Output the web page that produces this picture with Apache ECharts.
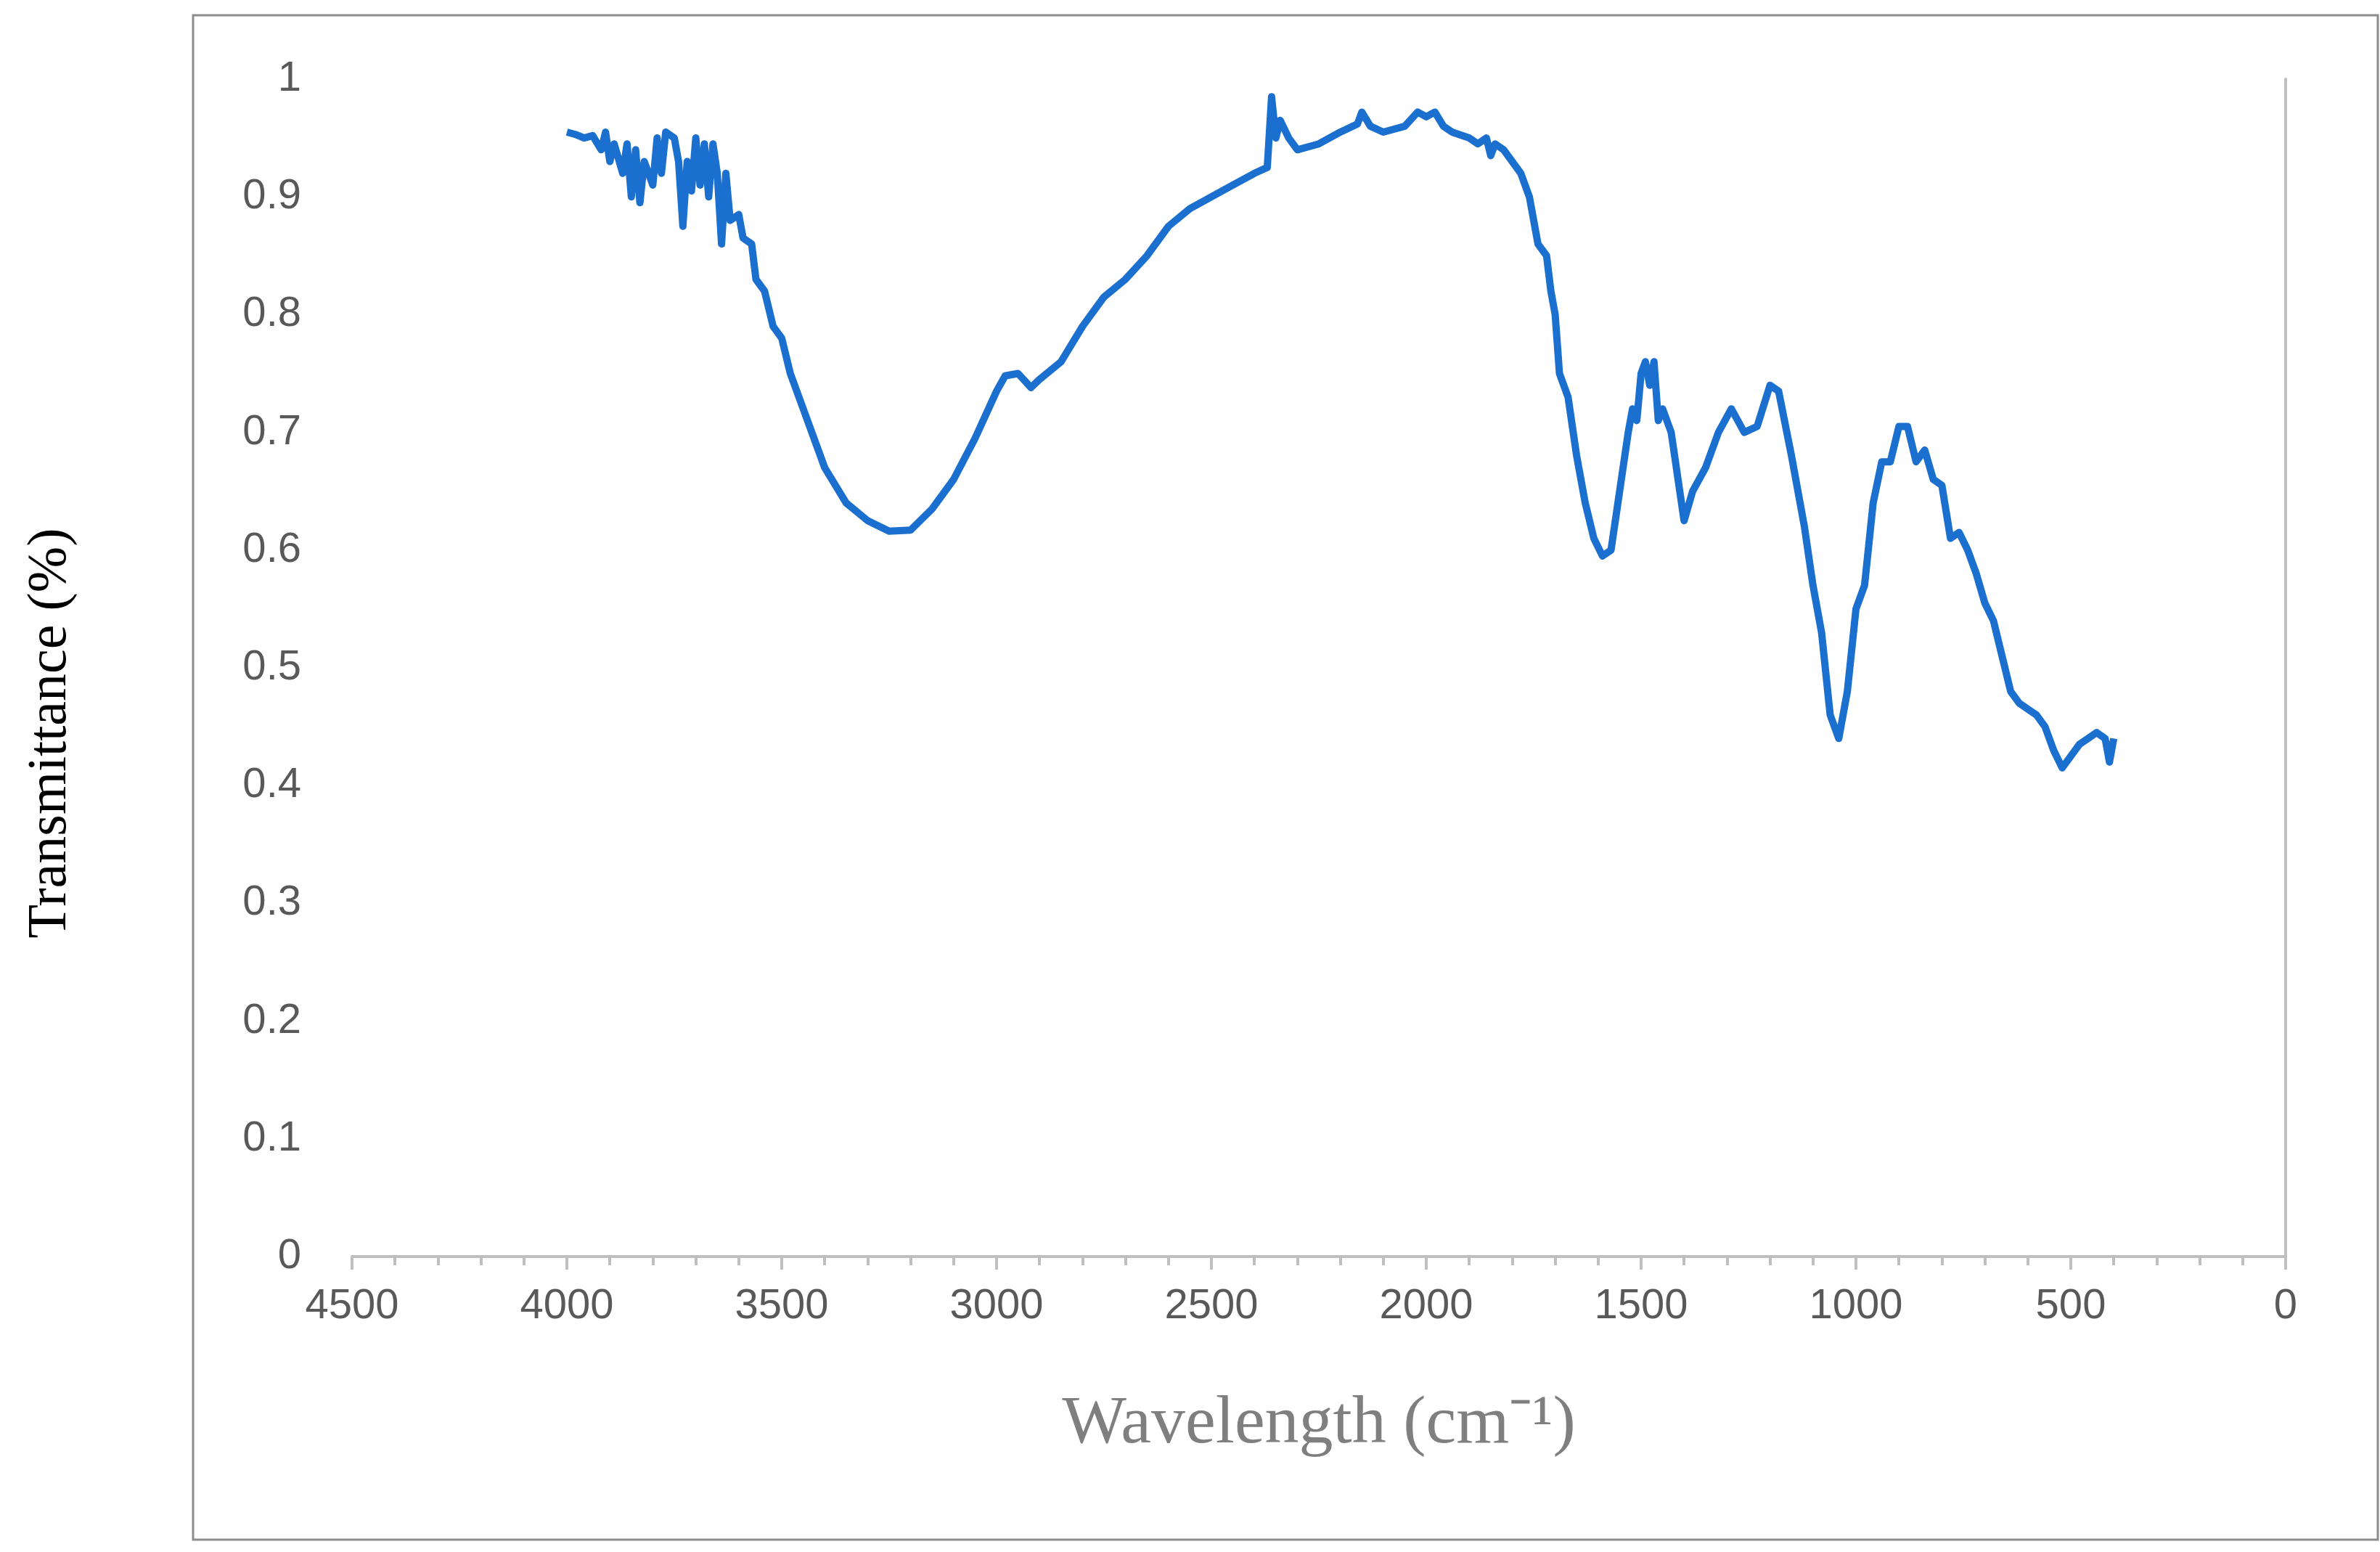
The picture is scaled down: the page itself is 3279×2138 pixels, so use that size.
<!DOCTYPE html>
<html><head><meta charset="utf-8">
<script src="https://cdn.jsdelivr.net/npm/echarts@6/dist/echarts.min.js"></script>
<style>html,body{margin:0;padding:0;background:#fff}#c{width:3279px;height:2138px}</style>
</head><body><div id="c"></div>
<script>
const wavenumbers = [4000,3980,3960,3940,3920,3910,3900,3890,3870,3860,3850,3840,3830,3820,3800,3790,3780,3770,3750,3740,3730,3720,3710,3700,3690,3680,3670,3660,3650,3640,3630,3620,3600,3590,3570,3560,3540,3520,3500,3480,3450,3420,3400,3350,3300,3250,3200,3150,3100,3050,3000,2980,2950,2920,2900,2850,2800,2750,2700,2650,2600,2550,2500,2450,2400,2370,2360,2350,2340,2320,2300,2250,2200,2160,2150,2130,2100,2050,2020,2000,1980,1960,1940,1900,1880,1860,1850,1840,1820,1800,1780,1760,1740,1720,1710,1700,1690,1670,1650,1630,1610,1590,1570,1550,1530,1520,1510,1500,1490,1480,1470,1460,1450,1430,1410,1400,1380,1350,1320,1290,1260,1230,1200,1180,1150,1120,1100,1080,1060,1040,1020,1000,980,960,940,920,900,880,860,840,820,800,780,760,740,720,700,680,660,640,620,600,580,560,540,520,500,480,460,440,420,410,400];
const transmittance = [0.955,0.953,0.95,0.952,0.94,0.955,0.93,0.945,0.92,0.945,0.9,0.94,0.895,0.93,0.91,0.95,0.92,0.955,0.95,0.93,0.875,0.93,0.905,0.95,0.91,0.945,0.9,0.945,0.92,0.86,0.92,0.88,0.885,0.865,0.86,0.83,0.82,0.79,0.78,0.75,0.72,0.69,0.67,0.64,0.625,0.616,0.617,0.635,0.66,0.695,0.735,0.748,0.75,0.738,0.745,0.76,0.79,0.815,0.83,0.85,0.875,0.89,0.9,0.91,0.92,0.925,0.985,0.95,0.965,0.95,0.94,0.945,0.955,0.962,0.972,0.96,0.955,0.96,0.972,0.968,0.972,0.96,0.955,0.95,0.945,0.95,0.935,0.945,0.94,0.93,0.92,0.9,0.86,0.85,0.82,0.8,0.75,0.73,0.68,0.64,0.61,0.595,0.6,0.65,0.7,0.72,0.71,0.75,0.76,0.74,0.76,0.71,0.72,0.7,0.65,0.625,0.65,0.67,0.7,0.72,0.7,0.705,0.74,0.735,0.68,0.62,0.57,0.53,0.46,0.44,0.48,0.55,0.57,0.64,0.675,0.675,0.705,0.705,0.675,0.685,0.66,0.655,0.61,0.615,0.6,0.58,0.555,0.54,0.51,0.48,0.47,0.465,0.46,0.45,0.43,0.415,0.425,0.435,0.44,0.445,0.44,0.42,0.44];
const xTitle = 'Wavelength (cm\u207B\u00B9)';
const yTitle = 'Transmittance (%)';
const chart = echarts.init(document.getElementById('c'));
const gray = '#595959';
chart.setOption({
  animation:false,
  grid:{left:485,right:130,top:109,bottom:407},
  xAxis:{type:'value',min:0,max:4500,interval:500,inverse:true,
    axisLine:{lineStyle:{color:'#bfbfbf',width:4}},
    axisTick:{show:true,inside:false,length:18,lineStyle:{color:'#bfbfbf',width:4}},
    minorTick:{show:true,splitNumber:5,length:12,lineStyle:{color:'#bfbfbf',width:4}},
    splitLine:{show:false},
    axisLabel:{color:gray,fontSize:58,fontFamily:'Liberation Sans',margin:40,formatter:v=>String(v)}},
  yAxis:[{type:'value',min:0,max:1,interval:0.1,
    axisLine:{show:false},axisTick:{show:false},splitLine:{show:false},
    axisLabel:{color:gray,fontSize:58,fontFamily:'Liberation Sans',margin:70,
      formatter:v=>String(Math.round(v*10)/10)}},
   {type:'value',min:0,max:1,position:'right',axisLine:{show:true,lineStyle:{color:'#bfbfbf',width:4}},
    axisTick:{show:false},axisLabel:{show:false},splitLine:{show:false}}],
  graphic:[
    {type:'rect',shape:{x:266,y:21,width:3010,height:2100},style:{fill:'none',stroke:'#8c8c8c',lineWidth:3}},
    {type:'text',x:1817,y:1962,style:{text:xTitle,fontFamily:'Liberation Serif',fontSize:94,fill:'#7f7f7f',align:'center',verticalAlign:'middle'}},
    {type:'text',x:70,y:1010,rotation:Math.PI/2,style:{text:yTitle,fontFamily:'Liberation Serif',fontSize:76,fill:'#000',align:'center',verticalAlign:'middle'}}
  ],
  series:[{type:'line',data:wavenumbers.map((w,i)=>[w,transmittance[i]]),showSymbol:false,
    lineStyle:{color:'#1b6fce',width:10,join:'round'},itemStyle:{color:'#1b6fce'}}]
});
</script></body></html>
